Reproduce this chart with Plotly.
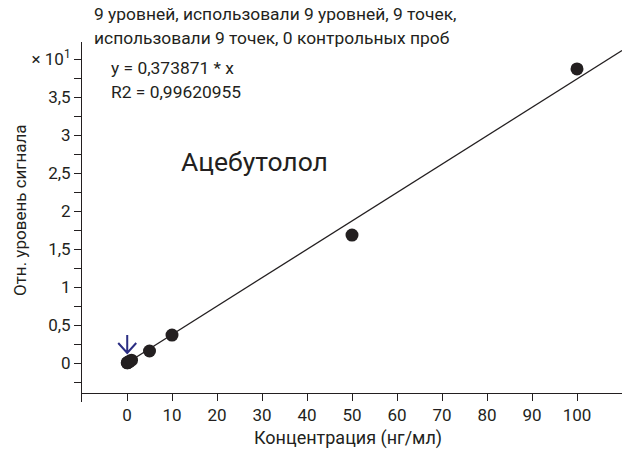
import plotly.graph_objects as go

# Calibration levels (ng/ml) and relative response (×10¹ units)
concentration = [0.05, 0.1, 0.25, 0.5, 1, 5, 10, 50, 100]
response = [0.002, 0.004, 0.009, 0.019, 0.037, 0.158, 0.368, 1.684, 3.87]

slope = 0.373871          # y = slope * x (raw units)
r2 = 0.99620955
scale = 10                # axis shows values ×10¹
fit_x = [0, 110]
fit_y = [slope * v / scale for v in fit_x]

x_ticks = [0, 10, 20, 30, 40, 50, 60, 70, 80, 90, 100]
y_tick_vals = [0, 0.5, 1, 1.5, 2, 2.5, 3, 3.5, 4.0]
y_tick_text = ["0", "0,5", "1", "1,5", "2", "2,5", "3", "3,5", "× 10<sup>1</sup>"]
y_minor_vals = [-0.25, 0.25, 0.75, 1.25, 1.75, 2.25, 2.75, 3.25, 3.75]

FONT = "Roboto, Liberation Sans, sans-serif"
INK = "#231f20"

fig = go.Figure()
fig.add_trace(go.Scatter(x=fit_x, y=fit_y, mode="lines",
                         line=dict(color=INK, width=1.3), hoverinfo="skip"))
fig.add_trace(go.Scatter(x=concentration, y=response, mode="markers",
                         marker=dict(color=INK, size=13)))

# Open arrow pointing at the lowest calibration point
fig.add_shape(type="path", xref="x", yref="y", xsizemode="pixel", ysizemode="pixel",
              xanchor=concentration[0], yanchor=0,
              path="M 0 28 L 0 10 M -9 20 L 0 10 L 9 20",
              line=dict(color="#2b2e83", width=2))

fig.update_layout(
    width=625, height=457,
    margin=dict(l=82, r=3, t=42, b=55),
    paper_bgcolor="white", plot_bgcolor="white",
    showlegend=False,
    font=dict(family=FONT, size=17, color=INK),
    xaxis=dict(range=[-10, 110], tickvals=x_ticks, ticks="outside", ticklen=7,
               tickcolor=INK, showline=True, linecolor=INK, linewidth=1,
               showgrid=False, zeroline=False, anchor="free", position=0.025,
               tickfont=dict(size=17)),
    yaxis=dict(range=[-0.513, 4.224], tickvals=y_tick_vals, ticktext=y_tick_text,
               ticks="outside", ticklen=7, tickcolor=INK, showline=True,
               linecolor=INK, linewidth=1, showgrid=False, zeroline=False,
               tickfont=dict(size=17),
               minor=dict(tickvals=y_minor_vals, ticks="outside", ticklen=7,
                          tickcolor=INK, showgrid=False)),
)

ann = [
    dict(text="9 уровней, использовали 9 уровней, 9 точек,", x=92, y=14),
    dict(text="использовали 9 точек, 0 контрольных проб", x=92, y=38),
    dict(text="y = 0,373871 * x", x=109, y=68),
    dict(text=f"R2 = {str(r2).replace('.', ',')}", x=109, y=92),
]
for a in ann:
    fig.add_annotation(text=a["text"], xref="paper", yref="paper",
                       x=(a["x"] - 82) / 540, y=(402 - a["y"]) / 360,
                       xanchor="left", yanchor="middle", showarrow=False,
                       font=dict(size=17.4))

fig.add_annotation(text="Ацебутолол", xref="paper", yref="paper",
                   x=(179 - 82) / 540, y=(402 - 161) / 360, xanchor="left",
                   yanchor="middle", showarrow=False, font=dict(size=26.5))
fig.add_annotation(text="Концентрация (нг/мл)", xref="paper", yref="paper",
                   x=(348 - 82) / 540, y=(402 - 438) / 360, xanchor="center",
                   yanchor="middle", showarrow=False, font=dict(size=18))
fig.add_annotation(text="Отн. уровень сигнала", xref="paper", yref="paper",
                   x=(20 - 82) / 540, y=(402 - 210) / 360, xanchor="center",
                   yanchor="middle", textangle=-90, showarrow=False,
                   font=dict(size=17))

fig.write_html("out.html")
